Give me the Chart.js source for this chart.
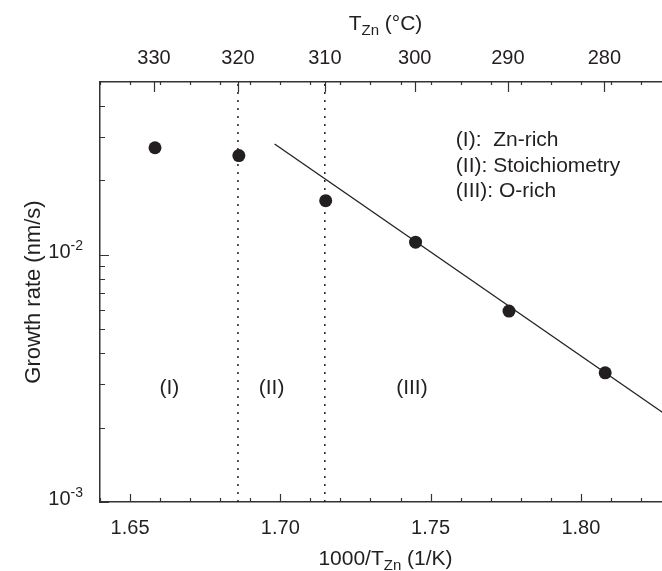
<!DOCTYPE html>
<html>
<head>
<meta charset="utf-8">
<script src="https://cdn.jsdelivr.net/npm/chart.js@4.4.0/dist/chart.umd.min.js"></script>
<style>
  html, body { margin: 0; padding: 0; background: #fff; overflow: hidden; }
  #wrap { width: 680px; height: 571px; }
</style>
</head>
<body>
<div id="wrap"><canvas id="growth-chart" width="680" height="571"></canvas></div>
<script>
// measured growth rate vs 1000/T_Zn
const invTemp = [1.6583, 1.6862, 1.7151, 1.7450, 1.7761, 1.8081];
const growthRate = [0.0271, 0.0252, 0.01656, 0.01125, 0.00592, 0.00333];

// fitted line through region III
const fitX = [1.6981, 1.83];
const fitY = [0.02805, 0.00218];

// dotted region boundaries (320 and 310 °C)
const boundaryX = [1.6859, 1.7148];

// bottom axis
const xLabelVals = [1.65, 1.70, 1.75, 1.80];
const xLabels = ["1.65", "1.70", "1.75", "1.80"];
const xMinorVals = [1.64, 1.66, 1.67, 1.68, 1.69, 1.71, 1.72, 1.73, 1.74, 1.76, 1.77, 1.78, 1.79, 1.81, 1.82];

// top axis, temperature in °C
const topTempC = [330, 320, 310, 300, 290, 280];

// left axis (log)
const yMajorVals = [0.001, 0.01];
const yExponents = ["-3", "-2"];
const yMinorVals = [0.002, 0.003, 0.004, 0.005, 0.006, 0.007, 0.008, 0.009, 0.02, 0.03, 0.04];

// text inside the plot
const regionLabels = ["(I)", "(II)", "(III)"];
const regionX = [1.6631, 1.6971, 1.7438];
const regionY = 0.00289;
const legendLines = ["(I):  Zn-rich", "(II): Stoichiometry", "(III): O-rich"];
const legendX = 1.7584;
const legendY = [0.0292, 0.0228, 0.0180];

const xMin = 1.64, xMax = 1.83;
const yMin = 0.001, yMax = 0.05;

const ink = "#231f20";
const axisColor = "#333333";
const fontFamily = "'Liberation Sans', Arial, Helvetica, sans-serif";
Chart.defaults.font.family = fontFamily;
Chart.defaults.color = ink;

// draws text with a lowered part, centred on cx
function drawParts(ctx, parts, cx, baseline) {
	let total = 0;
	parts.forEach(function (p) {
		ctx.font = p.size + "px " + fontFamily;
		p.w = ctx.measureText(p.t).width;
		total += p.w;
	});
	let px = cx - total / 2;
	ctx.textAlign = "left";
	ctx.textBaseline = "alphabetic";
	parts.forEach(function (p) {
		ctx.font = p.size + "px " + fontFamily;
		ctx.fillText(p.t, px, baseline + p.dy);
		px += p.w;
	});
}

// inward ticks, superscript y labels, titles and notes
const decorPlugin = {
	id: "decor",
	afterDraw(chart) {
		const ctx = chart.ctx;
		const area = chart.chartArea;
		const xs = chart.scales.x;
		const ys = chart.scales.y;
		const x2 = chart.scales.x2;

		ctx.save();
		ctx.strokeStyle = axisColor;
		ctx.lineWidth = 1.2;
		ctx.beginPath();
		// bottom + top hundredths
		xLabelVals.concat(xMinorVals).forEach(function (v) {
			const px = Math.round(xs.getPixelForValue(v)) + 0.5;
			const len = xLabelVals.includes(v) ? 8 : 4;
			ctx.moveTo(px, area.bottom);
			ctx.lineTo(px, area.bottom - len);
			ctx.moveTo(px, area.top);
			ctx.lineTo(px, area.top + 3);
		});
		// temperature ticks
		topTempC.forEach(function (t) {
			const px = Math.round(x2.getPixelForValue(1000 / (t + 273.15))) + 0.5;
			ctx.moveTo(px, area.top);
			ctx.lineTo(px, area.top + 10);
		});
		// log ticks
		yMajorVals.concat(yMinorVals).forEach(function (v) {
			const py = Math.round(ys.getPixelForValue(v)) + 0.5;
			const len = yMajorVals.includes(v) ? 9 : 5;
			ctx.moveTo(area.left, py);
			ctx.lineTo(area.left + len, py);
		});
		ctx.stroke();

		ctx.fillStyle = ink;
		// y labels as 10 with exponent
		yMajorVals.forEach(function (v, i) {
			const py = ys.getPixelForValue(v);
			const right = area.left - 17;
			ctx.textAlign = "right";
			ctx.textBaseline = "alphabetic";
			ctx.font = "14px " + fontFamily;
			const ew = ctx.measureText(yExponents[i]).width;
			ctx.fillText(yExponents[i], right, py - 5);
			ctx.font = "20px " + fontFamily;
			ctx.fillText("10", right - ew, py + 3);
		});

		// axis titles
		const cx = (area.left + area.right) / 2;
		drawParts(ctx, [
			{ t: "1000/T", size: 21, dy: 0 },
			{ t: "Zn", size: 15, dy: 5 },
			{ t: " (1/K)", size: 21, dy: 0 }
		], cx, 565);
		drawParts(ctx, [
			{ t: "T", size: 21, dy: 0 },
			{ t: "Zn", size: 15, dy: 5 },
			{ t: " (\u00B0C)", size: 21, dy: 0 }
		], cx, 30);

		ctx.save();
		ctx.translate(34, (area.top + area.bottom) / 2);
		ctx.rotate(-Math.PI / 2);
		ctx.textAlign = "center";
		ctx.textBaseline = "middle";
		ctx.font = "22px " + fontFamily;
		ctx.fillText("Growth rate (nm/s)", 0, 0);
		ctx.restore();

		// region labels
		ctx.font = "21px " + fontFamily;
		ctx.textAlign = "center";
		ctx.textBaseline = "middle";
		regionLabels.forEach(function (lab, i) {
			ctx.fillText(lab, xs.getPixelForValue(regionX[i]), ys.getPixelForValue(regionY));
		});

		// notes
		ctx.textAlign = "left";
		legendLines.forEach(function (line, i) {
			ctx.fillText(line, xs.getPixelForValue(legendX), ys.getPixelForValue(legendY[i]));
		});
		ctx.restore();
	}
};

const datasets = [
	{
		label: "Growth rate",
		data: invTemp.map(function (v, i) { return { x: v, y: growthRate[i] }; }),
		showLine: false,
		pointRadius: 6.5,
		pointBackgroundColor: ink,
		pointBorderWidth: 0,
		order: 0
	},
	{
		label: "Fit",
		data: fitX.map(function (v, i) { return { x: v, y: fitY[i] }; }),
		showLine: true,
		pointRadius: 0,
		borderColor: ink,
		borderWidth: 1.3,
		order: 1
	}
];
boundaryX.forEach(function (b) {
	datasets.push({
		label: "Boundary",
		data: [{ x: b, y: yMin }, { x: b, y: yMax }],
		showLine: true,
		pointRadius: 0,
		borderColor: ink,
		borderWidth: 1.5,
		borderDash: [2, 6],
		order: 2
	});
});

new Chart(document.getElementById("growth-chart"), {
	type: "scatter",
	data: { datasets: datasets },
	options: {
		responsive: false,
		animation: false,
		layout: { padding: { left: 100, right: 9, top: 34, bottom: 17 } },
		plugins: {
			legend: { display: false },
			tooltip: { enabled: false }
		},
		scales: {
			x: {
				type: "linear",
				position: "bottom",
				min: xMin,
				max: xMax,
				afterBuildTicks: function (scale) {
					scale.ticks = xLabelVals.map(function (v) { return { value: v }; });
				},
				ticks: {
					callback: function (value, index) { return xLabels[index]; },
					font: { size: 20 },
					color: ink,
					padding: 14,
					maxRotation: 0,
					autoSkip: false
				},
				grid: { display: false, drawTicks: false, tickLength: 0 },
				border: { display: true, color: axisColor, width: 1.5 }
			},
			x2: {
				type: "linear",
				position: "top",
				min: xMin,
				max: xMax,
				afterBuildTicks: function (scale) {
					scale.ticks = topTempC.map(function (t) { return { value: 1000 / (t + 273.15) }; });
				},
				ticks: {
					callback: function (value, index) { return String(topTempC[index]); },
					font: { size: 20 },
					color: ink,
					padding: 12,
					maxRotation: 0,
					autoSkip: false
				},
				grid: { display: false, drawTicks: false, tickLength: 0 },
				border: { display: true, color: axisColor, width: 1.5 }
			},
			y: {
				type: "logarithmic",
				min: yMin,
				max: yMax,
				ticks: { display: false },
				grid: { display: false, drawTicks: false, tickLength: 0 },
				border: { display: true, color: axisColor, width: 1.5 }
			}
		}
	},
	plugins: [decorPlugin]
});
</script>
</body>
</html>
